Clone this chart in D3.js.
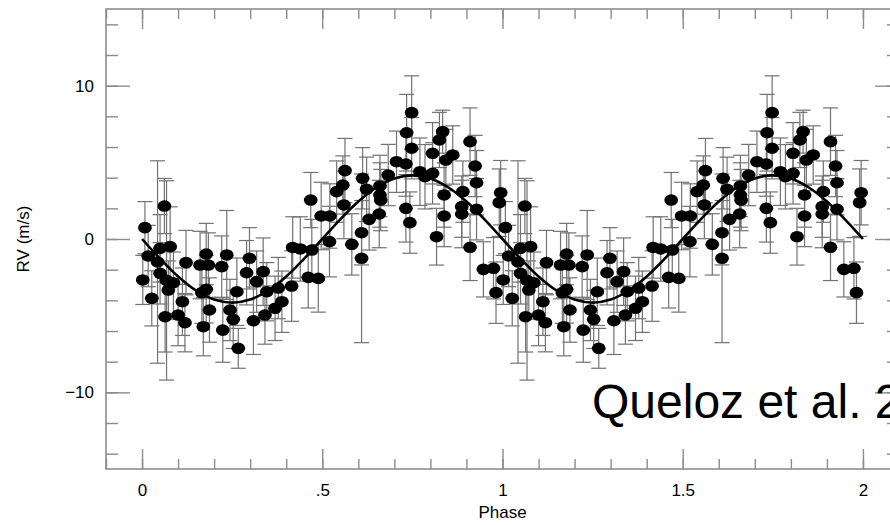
<!DOCTYPE html>
<html><head><meta charset="utf-8">
<script src="https://cdn.jsdelivr.net/npm/d3@7"></script>
<style>html,body{margin:0;padding:0;background:#fff;overflow:hidden}</style>
</head><body><svg id="c" width="890" height="525"></svg>
<script>
// One orbital cycle of folded radial-velocity measurements (drawn twice: phase and phase+1)
const phases = [0.008,0.002,0.017,0.027,0.062,0.050,0.078,0.043,0.050,0.068,0.087,0.073,0.064,0.100,0.119,0.112,0.122,0.161,0.178,0.184,0.178,0.166,0.187,0.170,0.221,0.235,0.244,0.224,0.253,0.263,0.267,0.298,0.290,0.309,0.318,
0.336,0.346,0.378,0.415,0.388,0.369,0.341,0.418,0.439,0.471,0.461,0.489,0.468,0.497,0.521,0.520,0.540,0.557,0.563,0.560,0.582,0.609,0.609,0.612,0.623,0.630,
0.660,0.660,0.662,0.658,0.683,0.706,0.732,0.734,0.748,0.748,0.732,0.743,0.771,0.785,0.806,0.806,0.825,0.834,0.843,0.862,0.838,0.838,0.817,0.910,0.924,0.928,0.890,0.887,0.887,0.928,0.910,0.947,0.975,0.982,0.995,0.991];
const rvs = [0.74,-2.67,-1.11,-3.87,2.15,-0.61,-0.50,-1.50,-2.24,-2.70,-2.85,-3.33,-5.07,-4.96,-5.46,-4.09,-1.54,-1.70,-0.98,-1.70,-3.28,-3.50,-4.63,-5.72,-1.80,-1.04,-4.63,-5.94,-5.24,-3.44,-7.13,-1.26,-2.20,-5.33,-2.78,
-2.13,-3.44,-3.20,-3.07,-4.09,-4.52,-4.96,-0.55,-0.65,-0.72,-2.50,-2.57,2.54,1.50,1.50,-0.17,3.09,3.52,4.46,2.22,-0.35,0.41,-1.26,3.96,3.24,1.28,
3.46,2.87,2.54,1.63,4.17,5.04,4.89,6.93,8.24,5.92,2.00,1.07,4.39,4.06,4.28,5.59,6.46,7.00,5.15,5.48,2.87,1.50,0.15,6.35,4.76,3.67,3.09,2.11,1.63,1.94,-0.54,-1.98,-1.91,-3.50,3.02,2.37];
const errs = [1.7,1.6,2.0,1.8,1.8,2.2,2.6,6.6,2.0,6.5,2.0,1.9,2.3,2.0,1.9,2.2,2.1,2.2,2.0,2.1,2.2,2.0,2.1,1.9,2.0,2.9,2.0,2.1,1.9,2.2,1.3,2.0,2.1,2.2,2.0,
2.2,1.9,2.0,2.3,2.0,2.1,1.9,2.0,2.1,2.0,2.0,2.2,1.8,2.2,2.1,2.3,2.0,1.9,2.1,2.2,2.0,2.1,5.5,2.0,2.1,2.0,
2.0,2.1,2.0,2.2,2.0,2.0,2.1,2.5,2.4,2.0,2.2,2.0,2.2,2.1,2.0,2.0,1.8,1.4,2.0,1.9,2.1,2.0,1.85,2.2,2.0,2.1,2.0,2.0,2.2,2.0,2.17,1.8,2.0,2.0,2.1,2.2];

// Fitted orbit at steps of 0.05 in phase (one cycle)
const modelPhase = [0,0.05,0.1,0.15,0.2,0.25,0.3,0.35,0.4,0.45,0.5,0.55,0.6,0.65,0.7,0.75,0.8,0.85,0.9,0.95,1.0];
const modelRV = [0,-1.28,-2.44,-3.36,-3.95,-4.15,-3.95,-3.36,-2.44,-1.28,0,1.28,2.44,3.36,3.95,4.15,3.95,3.36,2.44,1.28,0];

const cycles = [0, 1];
const xTicks = [0, 0.5, 1, 1.5, 2];
const xTickLabels = ["0", ".5", "1", "1.5", "2"];
const xMinorTicks = d3.range(-0.1, 2.101, 0.1).map(v => +v.toFixed(2));
const yTicks = [-10, 0, 10];
const yTickLabels = ["\u221210", "0", "10"];
const yMinorTicks = d3.range(-14, 15, 2);
const xTitle = "Phase";
const yTitle = "RV (m/s)";
const note = "Queloz et al. 2009";

const svg = d3.select("#c");
const x = d3.scaleLinear().domain([-0.1, 2.1]).range([106, 899]);
const y = d3.scaleLinear().domain([-15, 15]).range([469, 9]);
const axisCol = "#8c8c8c";
const font = "'Liberation Sans', Arial, Helvetica, sans-serif";

// frame
svg.append("rect")
  .attr("x", x(-0.1)).attr("y", y(15))
  .attr("width", x(2.1) - x(-0.1)).attr("height", y(-15) - y(15))
  .attr("fill", "none").attr("stroke", axisCol).attr("stroke-width", 1.6);

function styleAxis(g) {
  g.select(".domain").remove();
  g.selectAll(".tick line").attr("stroke", axisCol).attr("stroke-width", 1.4);
  g.selectAll(".tick text").attr("fill", "#000").attr("font-family", font).attr("font-size", 17);
}
const fmtX = d => xTickLabels[xTicks.indexOf(d)];
const fmtY = d => yTickLabels[yTicks.indexOf(d)];

// minor ticks
svg.append("g").attr("transform", `translate(0,${y(-15)})`)
  .call(d3.axisBottom(x).tickValues(xMinorTicks).tickSize(-10).tickFormat("")).call(styleAxis);
svg.append("g").attr("transform", `translate(0,${y(15)})`)
  .call(d3.axisTop(x).tickValues(xMinorTicks).tickSize(-10).tickFormat("")).call(styleAxis);
svg.append("g").attr("transform", `translate(${x(-0.1)},0)`)
  .call(d3.axisLeft(y).tickValues(yMinorTicks).tickSize(-12).tickFormat("")).call(styleAxis);
svg.append("g").attr("transform", `translate(${x(2.1)},0)`)
  .call(d3.axisRight(y).tickValues(yMinorTicks).tickSize(-12).tickFormat("")).call(styleAxis);
// major ticks + labels
svg.append("g").attr("transform", `translate(0,${y(-15)})`)
  .call(d3.axisBottom(x).tickValues(xTicks).tickSize(-20).tickPadding(15).tickFormat(fmtX)).call(styleAxis);
svg.append("g").attr("transform", `translate(0,${y(15)})`)
  .call(d3.axisTop(x).tickValues(xTicks).tickSize(-20).tickFormat("")).call(styleAxis);
svg.append("g").attr("transform", `translate(${x(-0.1)},0)`)
  .call(d3.axisLeft(y).tickValues(yTicks).tickSize(-24).tickPadding(12).tickFormat(fmtY)).call(styleAxis);
svg.append("g").attr("transform", `translate(${x(2.1)},0)`)
  .call(d3.axisRight(y).tickValues(yTicks).tickSize(-24).tickFormat("")).call(styleAxis);

// titles
svg.append("text").attr("x", x(1)).attr("y", 518).attr("text-anchor", "middle")
  .attr("font-family", font).attr("font-size", 17).text(xTitle);
svg.append("text").attr("transform", `translate(29,${y(0)}) rotate(-90)`).attr("text-anchor", "middle")
  .attr("font-family", font).attr("font-size", 17).text(yTitle);

// data (two cycles)
const pts = [];
cycles.forEach(c => phases.forEach((p, i) => pts.push({p: p + c, v: rvs[i], e: errs[i]})));

const eb = svg.append("g").attr("stroke", "#727272").attr("stroke-width", 1.2);
const capW = 7.5;
pts.forEach(d => {
  const cx = x(d.p), y1 = y(d.v + d.e), y2 = y(d.v - d.e);
  eb.append("line").attr("x1", cx).attr("x2", cx).attr("y1", y1).attr("y2", y2);
  eb.append("line").attr("x1", cx - capW).attr("x2", cx + capW).attr("y1", y1).attr("y2", y1);
  eb.append("line").attr("x1", cx - capW).attr("x2", cx + capW).attr("y1", y2).attr("y2", y2);
});

// model curve
const curvePts = [];
cycles.forEach(c => modelPhase.forEach((p, i) => { if (!(c > 0 && i === 0)) curvePts.push([p + c, modelRV[i]]); }));
svg.append("path").datum(curvePts)
  .attr("fill", "none").attr("stroke", "#000").attr("stroke-width", 2.6)
  .attr("d", d3.line().x(d => x(d[0])).y(d => y(d[1])).curve(d3.curveCatmullRom));

svg.append("g").selectAll("ellipse").data(pts).join("ellipse")
  .attr("cx", d => x(d.p)).attr("cy", d => y(d.v)).attr("rx", 6.9).attr("ry", 5.8).attr("fill", "#000");

// annotation (cropped at the right edge, as in the source figure)
svg.append("text").attr("x", 592).attr("y", 418).attr("font-family", font).attr("font-size", 48)
  .attr("fill", "#000").text(note);
</script></body></html>
